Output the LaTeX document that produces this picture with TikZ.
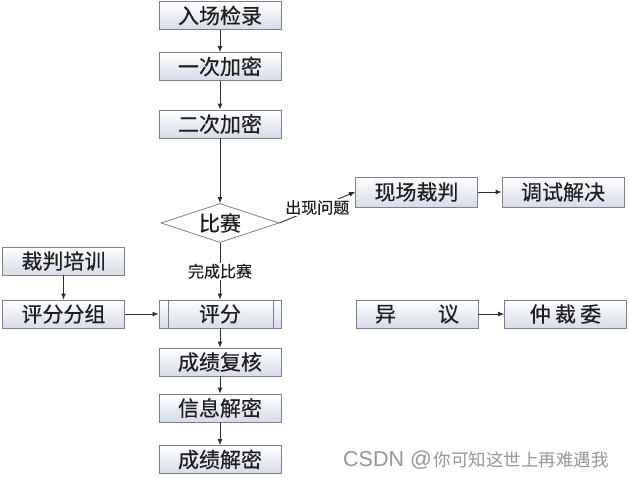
\documentclass[tikz,border=0pt]{standalone}
\usepackage{fontspec}
\setmainfont{Noto Sans CJK SC}
\newfontfamily\boxfont{Noto Sans CJK SC}[FakeBold=0.45]
\newfontfamily\lblfont{Noto Sans CJK SC}[FakeBold=0.3]
\newfontfamily\latinwm{Liberation Sans}
\usetikzlibrary{shapes.geometric,arrows.meta}
\definecolor{boxbot}{RGB}{214,219,233}
\definecolor{boxline}{RGB}{128,128,128}
\definecolor{conn}{RGB}{45,45,45}
\definecolor{txt}{RGB}{30,30,30}
\definecolor{wm}{RGB}{150,150,150}
\tikzset{
  stepbox/.style={draw=boxline, line width=0.8pt, top color=white, bottom color=boxbot,
    minimum width=122pt, minimum height=28pt, inner sep=0pt, text=txt,
    font=\boxfont\fontsize{21}{21}\selectfont},
  decision/.style={shape=diamond, aspect=3, draw=boxline, line width=0.8pt, fill=white,
    minimum width=118pt, minimum height=39pt, inner sep=0pt, text=txt,
    font=\boxfont\fontsize{21}{21}\selectfont},
  arr/.style={draw=conn, line width=0.9pt, -{Latex[length=6pt,width=5pt]}},
  lbl/.style={fill=white, inner sep=1pt, text=txt, font=\lblfont\fontsize{16}{16}\selectfont},
}
\begin{document}
\begin{tikzpicture}[x=1pt,y=-1pt]
\useasboundingbox (0,0) rectangle (629,479);
\node[stepbox] (r1) at (220,15.5) {入场检录};
\node[stepbox] (r2) at (220,66.5) {一次加密};
\node[stepbox] (r3) at (220,124) {二次加密};
\node[decision] (d) at (220,223) {比赛};
\node[stepbox] (s) at (220,314) {评分};
\draw[boxline, line width=0.8pt] ([xshift=10pt]s.north west) -- ([xshift=10pt]s.south west);
\draw[boxline, line width=0.8pt] ([xshift=-8pt]s.north east) -- ([xshift=-8pt]s.south east);
\node[stepbox] (c1) at (220,362) {成绩复核};
\node[stepbox] (c2) at (220,408) {信息解密};
\node[stepbox] (c3) at (220,459.5) {成绩解密};
\node[stepbox] (t1) at (63.5,261) {裁判培训};
\node[stepbox] (t2) at (63.5,314) {评分分组};
\node[stepbox, minimum height=30pt] (p1) at (416.5,192) {现场裁判};
\node[stepbox, minimum height=30pt] (p2) at (563,192) {调试解决};
\node[stepbox] (y1) at (417,314) {异\hspace{2em}议};
\node[stepbox] (y2) at (565.5,314) {仲\hspace{0.2em}裁\hspace{0.2em}委};
\draw[arr] (r1) -- (r2);
\draw[arr] (r2) -- (r3);
\draw[arr] (r3) -- (d.north);
\draw[arr] (d.south) -- node[lbl] (l1) {完成比赛} (s.north);
\draw[arr] (d.east) -- node[lbl] (l2) {出现问题} (p1.west);
\draw[arr] (p1) -- (p2);
\draw[arr] (t1) -- (t2);
\draw[arr] (t2) -- (s);
\draw[arr] (s) -- (c1);
\draw[arr] (c1) -- (c2);
\draw[arr] (c2) -- (c3);
\draw[arr] (y1) -- (y2);
\node[text=wm, inner sep=0pt, anchor=west] (w) at (343,460) {{\latinwm\fontsize{21.5}{21.5}\selectfont CSDN @}\hspace{2pt}{\fontsize{17.5}{17.5}\selectfont 你可知这世上再难遇我}};
\end{tikzpicture}
\end{document}
